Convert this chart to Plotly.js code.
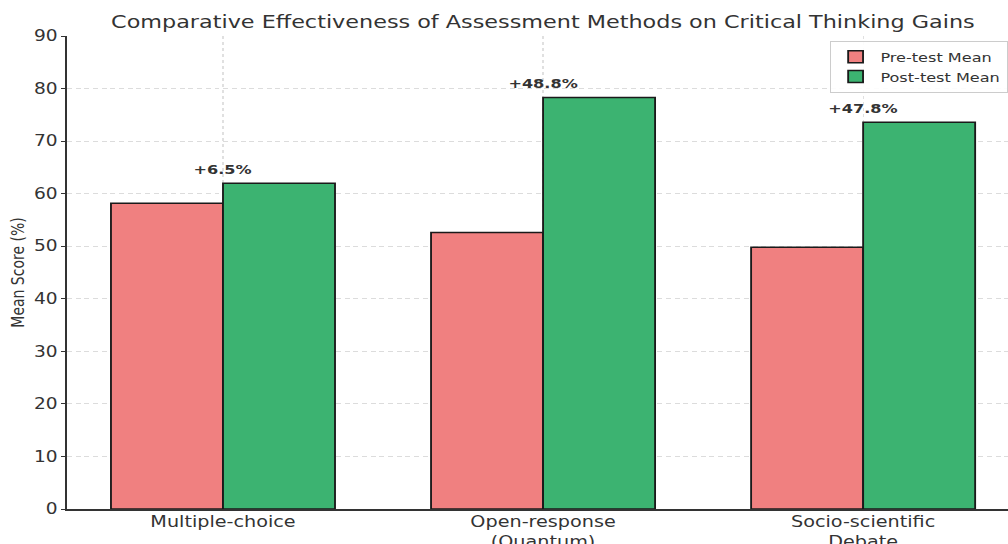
<!DOCTYPE html>
<html>
<head>
<meta charset="utf-8">
<script src="https://cdn.plot.ly/plotly-3.0.1.min.js"></script>
<style>
html,body{margin:0;padding:0;overflow:hidden;background:#fff;width:1008px;height:544px}
#chart{width:813px;height:544px;transform:scale(1.24,1);transform-origin:0 0}
</style>
</head>
<body>
<div id="chart"></div>
<script>
const categories = ["Multiple-choice", "Open-response<br>(Quantum)", "Socio-scientific<br>Debate"];
const preTest = [58.2, 52.6, 49.8];
const postTest = [62.0, 78.3, 73.6];
const gainLabels = ["+6.5%", "+48.8%", "+47.8%"];
const yTicks = [0, 10, 20, 30, 40, 50, 60, 70, 80, 90];

const font = "DejaVu Sans, sans-serif";
const traces = [
  {type: "bar", name: "Pre-test Mean", x: categories, y: preTest,
   marker: {color: "#F08080", line: {color: "#1a1a1a", width: 1.5}}, hoverinfo: "y"},
  {type: "bar", name: "Post-test Mean", x: categories, y: postTest,
   marker: {color: "#3CB371", line: {color: "#1a1a1a", width: 1.5}}, hoverinfo: "y"}
];
const annotations = categories.map((c, i) => ({
  x: c, y: postTest[i], xref: "x", yref: "y", text: "<b>" + gainLabels[i] + "</b>",
  showarrow: false, yanchor: "bottom", yshift: 4,
  font: {family: font, size: 13, color: "#333"}
}));
const layout = {
  width: 813, height: 544,
  margin: {l: 54, r: 0, t: 36, b: 35},
  paper_bgcolor: "#fff", plot_bgcolor: "#fff",
  barmode: "group", bargap: 0.3, bargroupgap: 0,
  title: {text: "Comparative Effectiveness of Assessment Methods on Critical Thinking Gains",
    font: {family: font, size: 18, color: "#333"}, x: 0.5385, xanchor: "center", y: 0.96, yanchor: "middle"},
  xaxis: {range: [-0.4875, 2.453], showline: true, linecolor: "#333", linewidth: 1.5,
    showgrid: true, gridcolor: "#e0e0e0", griddash: "3px,3px", gridwidth: 1,
    ticks: "", ticklabelstandoff: -2,
    tickfont: {family: font, size: 15.5, color: "#333"}, automargin: false},
  yaxis: {range: [0, 90], tickvals: yTicks, showline: true, linecolor: "#333", linewidth: 1.5,
    showgrid: true, gridcolor: "#dcdcdc", griddash: "4px,3px", gridwidth: 1, zeroline: false,
    ticks: "outside", ticklen: 3, tickcolor: "#333",
    tickfont: {family: font, size: 15, color: "#333"},
    title: {text: "Mean Score (%)", font: {family: font, size: 14, color: "#333"}, standoff: 4},
    automargin: false},
  legend: {x: 1, xanchor: "right", y: 0.99, yanchor: "top", bgcolor: "rgba(255,255,255,0.9)",
    bordercolor: "#ccc", borderwidth: 1, font: {family: font, size: 13, color: "#333"},
    traceorder: "normal"},
  annotations: annotations,
  showlegend: true
};
Plotly.newPlot("chart", traces, layout, {displayModeBar: false, staticPlot: true});
</script>
</body>
</html>
